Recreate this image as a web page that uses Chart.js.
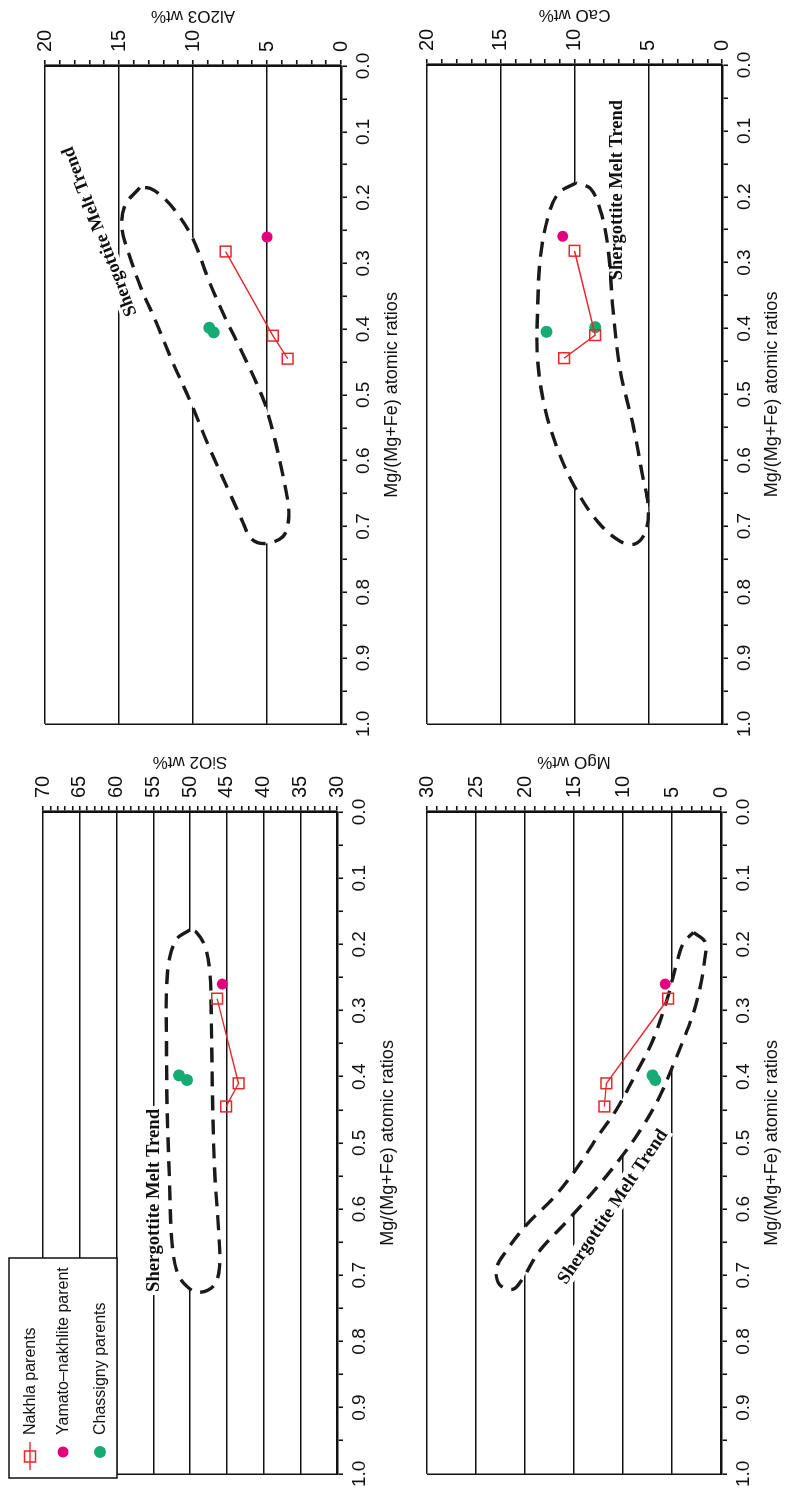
<!DOCTYPE html>
<html>
<head>
<meta charset="utf-8">
<script src="https://cdn.jsdelivr.net/npm/chart.js@4.4.1/dist/chart.umd.min.js"></script>
<style>
html, body { margin:0; padding:0; background:#fff; }
body { width:785px; height:1492px; overflow:hidden; position:relative; }
/* the figure is printed turned a quarter turn counter-clockwise */
#page { position:absolute; left:0; top:0; width:1492px; height:785px;
        transform-origin:0 0; transform:translate(0px,1492px) rotate(-90deg); }
#page canvas { position:absolute; }
</style>
</head>
<body>
<div id="page">
  <canvas id="sio2"  width="745" height="410" style="left:0;top:0"></canvas>
  <canvas id="al2o3" width="742" height="410" style="left:750px;top:0"></canvas>
  <canvas id="mgo"   width="745" height="390" style="left:0;top:395px"></canvas>
  <canvas id="cao"   width="742" height="390" style="left:750px;top:395px"></canvas>
</div>
<script>
// Mg/(Mg+Fe) atomic ratios
const nakhlaMg = [0.282, 0.410, 0.445];
const yamatoMg = [0.260];
const chassignyMg = [0.398, 0.405];

// wt% values per oxide
const nakhlaSiO2 = [46.3, 43.4, 45.1];
const yamatoSiO2 = [45.6];
const chassignySiO2 = [51.5, 50.4];

const nakhlaAl2O3 = [7.8, 4.6, 3.6];
const yamatoAl2O3 = [5.0];
const chassignyAl2O3 = [8.9, 8.6];

const nakhlaMgO = [5.4, 11.7, 11.9];
const yamatoMgO = [5.7];
const chassignyMgO = [7.0, 6.7];

const nakhlaCaO = [10.0, 8.6, 10.7];
const yamatoCaO = [10.8];
const chassignyCaO = [8.6, 11.9];

// shergottite melt trend outlines (closed loops)
const trendSiO2Mg  = [0.178, 0.192, 0.222, 0.268, 0.353, 0.453, 0.553, 0.644, 0.694, 0.716, 0.726, 0.716, 0.689, 0.633, 0.553, 0.453, 0.318, 0.242, 0.202, 0.182, 0.178];
const trendSiO2Val = [50.0, 51.8, 52.8, 53.2, 53.2, 53.1, 52.8, 52.5, 51.8, 50.5, 48.9, 46.8, 46.0, 46.1, 46.6, 46.9, 47.1, 47.3, 48.0, 49.1, 50.0];

const trendAl2O3Mg  = [0.185, 0.212, 0.247, 0.288, 0.338, 0.389, 0.449, 0.509, 0.580, 0.650, 0.695, 0.718, 0.726, 0.716, 0.691, 0.661, 0.620, 0.565, 0.510, 0.439, 0.384, 0.328, 0.263, 0.223, 0.200, 0.186, 0.185];
const trendAl2O3Val = [13.6, 14.6, 14.8, 14.3, 13.5, 12.5, 11.4, 10.2, 8.9, 7.5, 6.6, 6.1, 5.2, 3.95, 3.55, 3.6, 3.95, 4.5, 5.2, 6.6, 7.8, 8.9, 10.0, 11.1, 12.0, 12.9, 13.6];

const trendMgOMg  = [0.182, 0.197, 0.227, 0.263, 0.303, 0.343, 0.383, 0.428, 0.473, 0.518, 0.568, 0.618, 0.663, 0.704, 0.721, 0.714, 0.689, 0.663, 0.623, 0.583, 0.538, 0.493, 0.448, 0.393, 0.343, 0.283, 0.227, 0.197, 0.182];
const trendMgOVal = [2.8, 1.6, 1.7, 2.1, 2.8, 3.8, 4.9, 6.2, 7.9, 10.0, 12.7, 15.7, 18.5, 20.2, 21.2, 22.6, 22.9, 21.9, 19.8, 17.1, 14.7, 12.7, 10.6, 8.6, 6.9, 5.5, 4.5, 3.8, 2.8];

const trendCaOMg  = [0.179, 0.195, 0.231, 0.289, 0.369, 0.448, 0.521, 0.586, 0.644, 0.694, 0.723, 0.727, 0.709, 0.672, 0.622, 0.550, 0.463, 0.369, 0.282, 0.224, 0.188, 0.179];
const trendCaOVal = [9.9, 11.1, 11.8, 12.3, 12.5, 12.5, 12.0, 11.1, 9.9, 8.4, 6.9, 5.9, 5.2, 5.0, 5.4, 6.0, 6.9, 7.4, 7.7, 8.2, 8.9, 9.9];

const seriesNames = ['Nakhla parents', 'Yamato\u2013nakhlite parent', 'Chassigny parents'];
const trendName = 'Shergottite Melt Trend';
const xTitle = 'Mg/(Mg+Fe) atomic ratios';

const RED = '#e8262b', MAGENTA = '#e4007c', GREEN = '#16ab74', INK = '#111';
const SANS = '"Liberation Sans", Arial, sans-serif';
const NARROW = '"Liberation Sans Narrow", "Arial Narrow", "Liberation Sans", sans-serif';

Chart.defaults.font.family = SANS;
Chart.defaults.color = INK;

function pts(xs, ys) {
    return xs.map((x, i) => ({x: x, y: ys[i]}));
}

// white box under the trend label (hides grid lines), text on top of everything
function drawTrendLabel(chart, o, background) {
    if (!o || !o.text) return;
    const ctx = chart.ctx;
    const px = chart.scales.x.getPixelForValue(o.x);
    const py = chart.scales.y.getPixelForValue(o.y);
    ctx.save();
    ctx.translate(px, py);
    ctx.rotate(o.angle * Math.PI / 180);
    ctx.font = 'bold 20px "Liberation Serif", serif';
    const size = Math.round(20 * o.width / ctx.measureText(o.text).width * 10) / 10;
    ctx.font = 'bold ' + size + 'px "Liberation Serif", serif';
    ctx.textAlign = 'center';
    ctx.textBaseline = 'middle';
    const w = ctx.measureText(o.text).width;
    if (background) {
        ctx.fillStyle = '#fff';
        ctx.fillRect(-w / 2 - 3, -size * 0.55, w + 6, size * 1.1);
    } else {
        ctx.fillStyle = INK;
        ctx.fillText(o.text, 0, 1);
    }
    ctx.restore();
}

const trendLabel = {
    id: 'trendLabel',
    beforeDatasetsDraw(chart, args, o) { drawTrendLabel(chart, o, true); },
    afterDatasetsDraw(chart, args, o) { drawTrendLabel(chart, o, false); }
};

// y title sits right of the right-hand axis, reading bottom to top
const yTitle = {
    id: 'yTitle',
    afterDraw(chart, args, o) {
        if (!o || !o.text) return;
        const a = chart.chartArea, ctx = chart.ctx;
        ctx.save();
        ctx.translate(a.right + o.offset, (a.top + a.bottom) / 2);
        ctx.rotate(-Math.PI / 2);
        ctx.font = '17px ' + SANS;
        ctx.fillStyle = INK;
        ctx.textAlign = 'center';
        ctx.textBaseline = 'middle';
        ctx.fillText(o.text, 0, 0);
        ctx.restore();
    }
};

// boxed legend drawn inside the SiO2 panel
const boxLegend = {
    id: 'boxLegend',
    afterDraw(chart, args, o) {
        if (!o || !o.show) return;
        const ctx = chart.ctx;
        const ds = chart.data.datasets;
        ctx.save();
        ctx.fillStyle = '#fff';
        ctx.fillRect(o.left, o.top, o.width, o.height);
        ctx.strokeStyle = INK;
        ctx.lineWidth = 1.5;
        ctx.strokeRect(o.left, o.top, o.width, o.height);
        ctx.font = '16px ' + SANS;
        ctx.textBaseline = 'middle';
        for (let i = 0; i < 3; i++) {
            const y = o.top + o.rows[i];
            const d = ds[i];
            if (i === 0) {
                ctx.strokeStyle = d.borderColor;
                ctx.lineWidth = 1.4;
                ctx.beginPath();
                ctx.moveTo(o.left + 8, y);
                ctx.lineTo(o.left + 36, y);
                ctx.stroke();
                ctx.lineWidth = 1.5;
                ctx.strokeRect(o.left + 16, y - 5.5, 11, 11);
            } else {
                ctx.fillStyle = d.pointBackgroundColor;
                ctx.beginPath();
                ctx.arc(o.left + 26, y, d.pointRadius, 0, Math.PI * 2);
                ctx.fill();
            }
            ctx.fillStyle = INK;
            ctx.fillText(d.label, o.left + o.textX, y + 1);
        }
        ctx.restore();
    }
};

Chart.register(trendLabel, yTitle, boxLegend);

function makeChart(id, p) {
    return new Chart(document.getElementById(id), {
        type: 'scatter',
        data: {
            datasets: [{
                label: seriesNames[0],
                data: pts(nakhlaMg, p.nakhla),
                showLine: true,
                borderColor: RED,
                borderWidth: 1.4,
                pointStyle: 'rect',
                pointRadius: 7.6,
                pointBorderWidth: 1.5,
                pointBorderColor: RED,
                pointBackgroundColor: 'rgba(255,255,255,0)',
                tension: 0
            }, {
                label: seriesNames[1],
                data: pts(yamatoMg, p.yamato),
                pointRadius: 5.5,
                pointBorderWidth: 0,
                pointBackgroundColor: MAGENTA,
                borderColor: MAGENTA
            }, {
                label: seriesNames[2],
                data: pts(chassignyMg, p.chassigny),
                pointRadius: 6,
                pointBorderWidth: 0,
                pointBackgroundColor: GREEN,
                borderColor: GREEN
            }, {
                label: trendName,
                data: pts(p.trendMg, p.trendVal),
                showLine: true,
                pointRadius: 0,
                borderColor: '#1a1a1a',
                borderWidth: 3.4,
                borderDash: [15, 9],
                tension: 0.35,
                fill: 'shape',
                backgroundColor: '#fff'
            }]
        },
        options: {
            responsive: false,
            animation: false,
            devicePixelRatio: 1,
            events: [],
            layout: {padding: {left: p.padLeft, top: p.padTop, right: 0, bottom: 0}},
            plugins: {
                legend: {display: false},
                tooltip: {enabled: false},
                trendLabel: p.label,
                yTitle: {text: p.yTitle, offset: 50},
                boxLegend: p.legend || {show: false}
            },
            scales: {
                x: {
                    type: 'linear',
                    position: 'bottom',
                    reverse: true,
                    min: 0,
                    max: 1,
                    afterFit: s => { s.height = p.xHeight; },
                    border: {display: true, color: INK, width: 2.6},
                    grid: {
                        drawOnChartArea: true,
                        color: c => (c.tick && Math.abs(c.tick.value - 1) < 1e-6) ? INK : 'rgba(0,0,0,0)',
                        lineWidth: 1.5,
                        tickColor: INK,
                        tickLength: 6,
                        tickWidth: 1.6
                    },
                    ticks: {
                        stepSize: 0.05,
                        maxTicksLimit: 1000,
                        autoSkip: false,
                        maxRotation: 0,
                        padding: 5,
                        font: {family: NARROW, size: 19},
                        callback: v => Math.abs(v * 10 - Math.round(v * 10)) < 1e-6 ? v.toFixed(1) : ''
                    },
                    title: {
                        display: true,
                        text: xTitle,
                        font: {size: 18},
                        padding: {top: 0, bottom: p.titlePad}
                    }
                },
                y: {
                    type: 'linear',
                    position: 'right',
                    min: p.yMin,
                    max: p.yMax,
                    afterFit: s => { s.width = p.yWidth; },
                    border: {display: true, color: INK, width: 2.6},
                    grid: {
                        drawOnChartArea: true,
                        color: c => (c.tick && c.tick.value % 5 === 0) ? INK : 'rgba(0,0,0,0)',
                        lineWidth: 1.5,
                        tickColor: INK,
                        tickLength: 6,
                        tickWidth: 1.6
                    },
                    ticks: {
                        stepSize: 1,
                        maxTicksLimit: 1000,
                        autoSkip: false,
                        padding: 8,
                        font: {family: NARROW, size: 20},
                        callback: v => v % 5 === 0 ? String(v) : ''
                    }
                }
            }
        }
    });
}

makeChart('sio2', {
    nakhla: nakhlaSiO2, yamato: yamatoSiO2, chassigny: chassignySiO2,
    trendMg: trendSiO2Mg, trendVal: trendSiO2Val,
    yMin: 30, yMax: 70, yTitle: 'SiO2 wt%',
    padLeft: 15, padTop: 43, yWidth: 65, xHeight: 73, titlePad: 11,
    label: {text: trendName, x: 0.587, y: 55, angle: 0, width: 183},
    legend: {show: true, left: 14, top: 9, width: 220, height: 108, rows: [21, 54, 91], textX: 43}
});

makeChart('al2o3', {
    nakhla: nakhlaAl2O3, yamato: yamatoAl2O3, chassigny: chassignyAl2O3,
    trendMg: trendAl2O3Mg, trendVal: trendAl2O3Val,
    yMin: 0, yMax: 20, yTitle: 'Al2O3 wt%',
    padLeft: 14, padTop: 45, yWidth: 66, xHeight: 69, titlePad: 7,
    label: {text: trendName, x: 0.252, y: 16.35, angle: -21, width: 180}
});

makeChart('mgo', {
    nakhla: nakhlaMgO, yamato: yamatoMgO, chassigny: chassignyMgO,
    trendMg: trendMgOMg, trendVal: trendMgOVal,
    yMin: 0, yMax: 30, yTitle: 'MgO wt%',
    padLeft: 15, padTop: 32, yWidth: 65, xHeight: 64, titlePad: 2,
    label: {text: trendName, x: 0.596, y: 11.1, angle: 34, width: 182}
});

makeChart('cao', {
    nakhla: nakhlaCaO, yamato: yamatoCaO, chassigny: chassignyCaO,
    trendMg: trendCaOMg, trendVal: trendCaOVal,
    yMin: 0, yMax: 20, yTitle: 'CaO wt%',
    padLeft: 13, padTop: 32, yWidth: 65, xHeight: 63, titlePad: 2,
    label: {text: trendName, x: 0.19, y: 7.2, angle: 0, width: 180}
});
</script>
</body>
</html>
